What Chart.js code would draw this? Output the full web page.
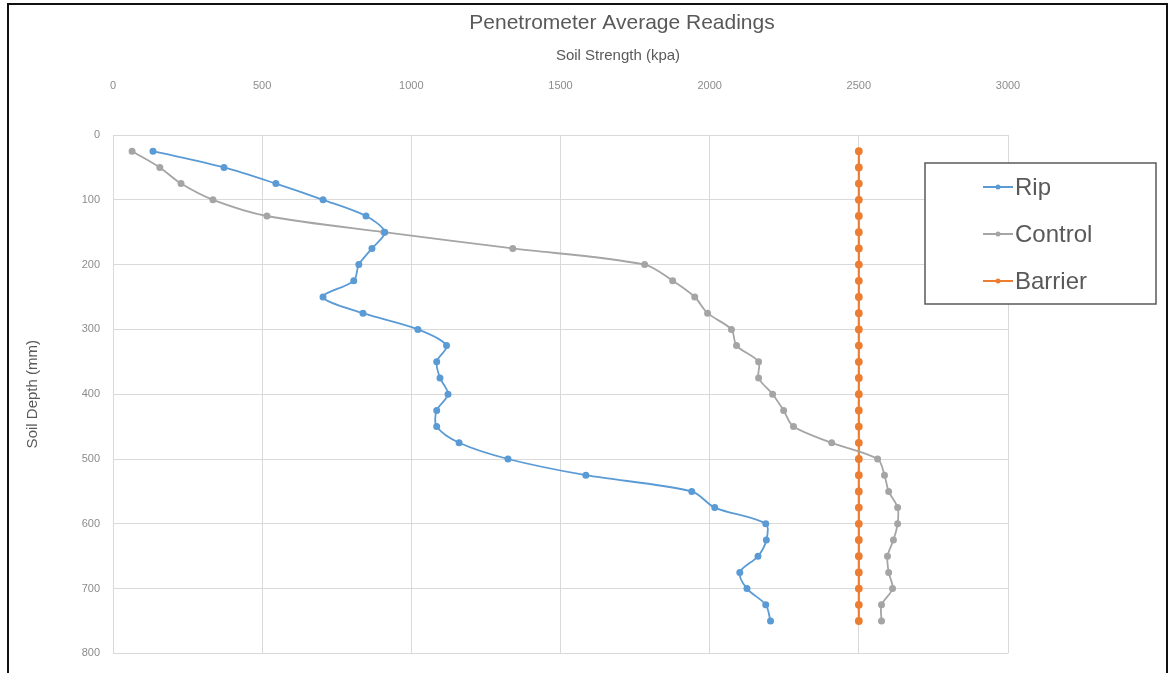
<!DOCTYPE html>
<html>
<head>
<meta charset="utf-8">
<script src="https://cdn.jsdelivr.net/npm/chart.js@4"></script>
<style>
  html, body { margin: 0; padding: 0; background: #fff; }
  #wrap { position: relative; width: 1172px; height: 673px; overflow: hidden; }
  #frame { position: absolute; left: 7px; top: 3px; width: 1157px; height: 700px;
           border: 2px solid #111; pointer-events: none; }
</style>
</head>
<body>
<div id="wrap">
  <canvas id="penChart" width="1172" height="673"></canvas>
  <div id="frame"></div>
</div>
<script>
const depths = [25, 50, 75, 100, 125, 150, 175, 200, 225, 250, 275, 300, 325, 350, 375,
  400, 425, 450, 475, 500, 525, 550, 575, 600, 625, 650, 675, 700, 725, 750];
const rip = [134, 372, 546, 704, 848, 911, 868, 824, 807, 704, 838, 1022, 1118, 1085, 1096,
  1123, 1085, 1085, 1160, 1324, 1585, 1940, 2017, 2188, 2190, 2162, 2101, 2125, 2188, 2204];
const control = [64, 157, 228, 335, 516, 908, 1340, 1782, 1876, 1950, 1993, 2073, 2090, 2164, 2164,
  2211, 2248, 2281, 2409, 2563, 2586, 2600, 2630, 2630, 2616, 2596, 2600, 2613, 2576, 2576];
const barrier = [2500, 2500, 2500, 2500, 2500, 2500, 2500, 2500, 2500, 2500, 2500, 2500, 2500, 2500, 2500,
  2500, 2500, 2500, 2500, 2500, 2500, 2500, 2500, 2500, 2500, 2500, 2500, 2500, 2500, 2500];
const strengthTicks = [0, 500, 1000, 1500, 2000, 2500, 3000];
const depthTicks = [0, 100, 200, 300, 400, 500, 600, 700, 800];

const font = "'Liberation Sans', Arial, sans-serif";
const textGrey = "#595959";

function pts(vals) {
  return vals.map((v, i) => ({ x: v, y: depths[i] }));
}

function series(label, vals, color, width, radius) {
  return {
    label,
    data: pts(vals),
    showLine: true,
    borderColor: color,
    backgroundColor: color,
    borderWidth: width,
    pointRadius: radius,
    pointHoverRadius: radius,
    tension: 0.3,
  };
}

// chart title + x axis title sit right of the plot centre in the original, so draw them here
const topTitles = {
  id: "topTitles",
  afterDraw(chart) {
    const ctx = chart.ctx;
    ctx.save();
    ctx.fillStyle = textGrey;
    ctx.textAlign = "center";
    ctx.textBaseline = "middle";
    ctx.font = "21px " + font;
    ctx.fillText("Penetrometer Average Readings", 622, 23);
    ctx.font = "15px " + font;
    ctx.fillText("Soil Strength (kpa)", 618, 56);
    ctx.restore();
  },
};

// legend drawn as a boxed panel overlapping the plot, like the original
const boxLegend = {
  id: "boxLegend",
  afterDraw(chart) {
    const ctx = chart.ctx;
    ctx.save();
    ctx.fillStyle = "#fff";
    ctx.fillRect(925, 163, 231, 141);
    ctx.strokeStyle = textGrey;
    ctx.lineWidth = 1.5;
    ctx.strokeRect(925, 163, 231, 141);
    chart.data.datasets.forEach((ds, i) => {
      const y = 187 + i * 47;
      ctx.strokeStyle = ds.borderColor;
      ctx.lineWidth = 2;
      ctx.beginPath();
      ctx.moveTo(983, y);
      ctx.lineTo(1013, y);
      ctx.stroke();
      ctx.fillStyle = ds.borderColor;
      ctx.beginPath();
      ctx.arc(998, y, 2.5, 0, Math.PI * 2);
      ctx.fill();
      ctx.fillStyle = textGrey;
      ctx.font = "24px " + font;
      ctx.textBaseline = "middle";
      ctx.fillText(ds.label, 1015, y + 1);
    });
    ctx.restore();
  },
};

const chart = new Chart(document.getElementById("penChart"), {
  type: "scatter",
  data: {
    datasets: [
      series("Rip", rip, "#5b9bd5", 1.8, 2.6),
      series("Control", control, "#a5a5a5", 1.8, 2.6),
      series("Barrier", barrier, "#ed7d31", 2.2, 2.8),
    ],
  },
  options: {
    responsive: false,
    animation: false,
    layout: { padding: { left: 10, right: 164, top: 0, bottom: 18 } },
    plugins: {
      legend: { display: false },
      tooltip: { enabled: false },
      title: { display: false },
    },
    scales: {
      x: {
        type: "linear",
        position: "top",
        min: 0,
        max: 3000,
        afterBuildTicks: (s) => { s.ticks = strengthTicks.map((v) => ({ value: v })); },
        afterFit: (s) => { s.height = 135; },
        grid: { color: "#d9d9d9", drawTicks: false },
        border: { color: "#d9d9d9" },
        ticks: {
          color: "#8c8c8c",
          font: { family: font, size: 11 },
          padding: 42,
          callback: (v) => String(v),
        },
      },
      y: {
        type: "linear",
        reverse: true,
        min: 0,
        max: 800,
        afterBuildTicks: (s) => { s.ticks = depthTicks.map((v) => ({ value: v })); },
        afterFit: (s) => { s.width = 103; },
        grid: { color: "#d9d9d9", drawTicks: false },
        border: { color: "#d9d9d9" },
        ticks: {
          color: "#8c8c8c",
          font: { family: font, size: 11 },
          padding: 13,
          callback: (v) => String(v),
        },
        title: {
          display: true,
          text: "Soil Depth (mm)",
          color: textGrey,
          font: { family: font, size: 15 },
          padding: { top: 14, bottom: 0 },
        },
      },
    },
  },
  plugins: [topTitles, boxLegend],
});
</script>
</body>
</html>
